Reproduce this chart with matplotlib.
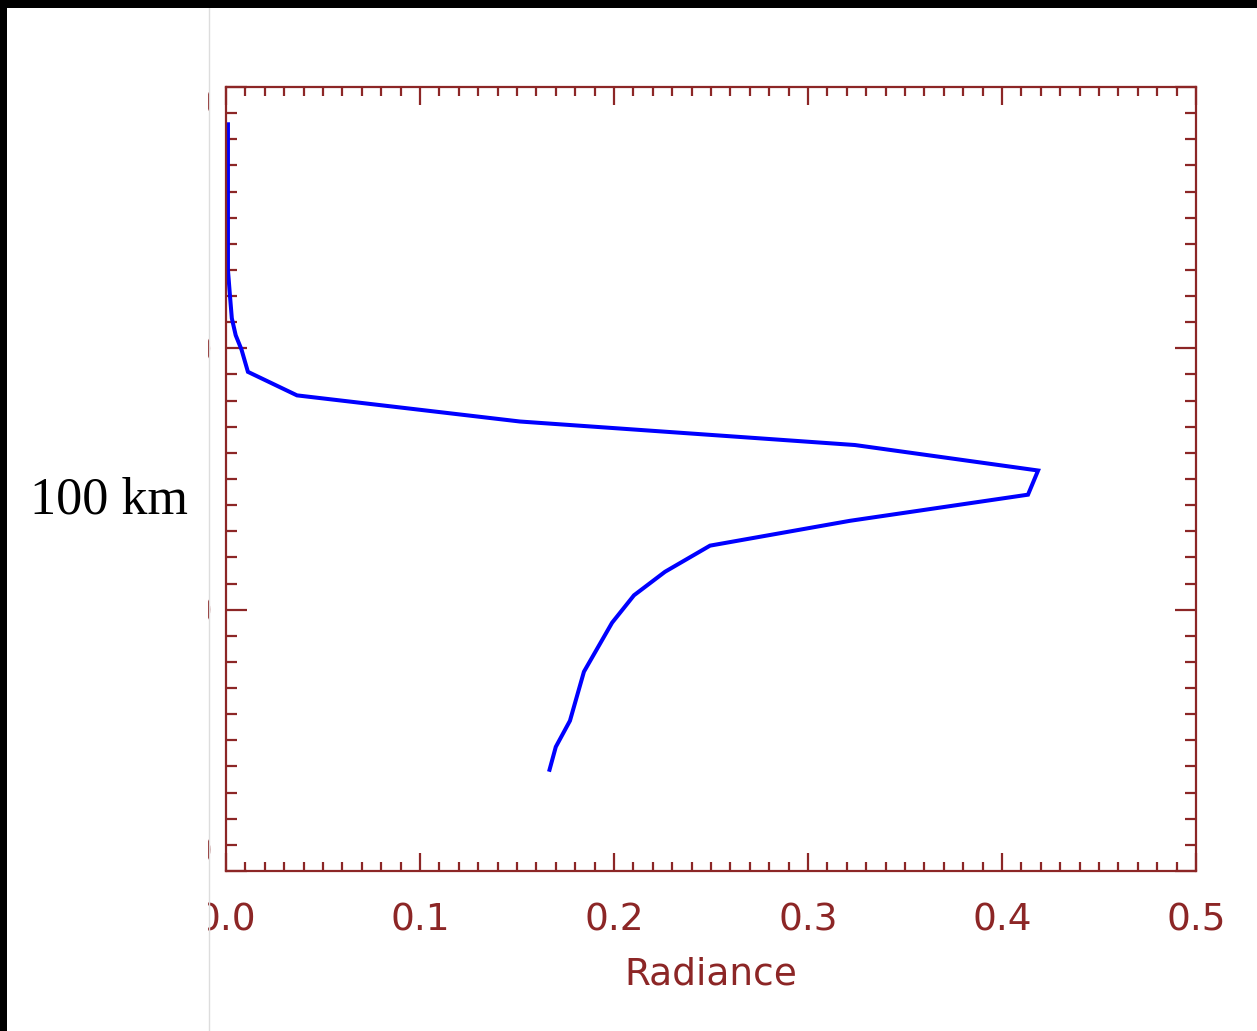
import numpy as np
import matplotlib.pyplot as plt
from matplotlib.patches import Rectangle
from matplotlib.lines import Line2D
from matplotlib.ticker import MultipleLocator

# emission profile: radiance vs altitude (km)
radiance = [0.001, 0.001, 0.002, 0.003, 0.005, 0.008, 0.0113, 0.0366, 0.1515,
            0.3242, 0.4186, 0.4134, 0.3216, 0.2495, 0.2263, 0.2103, 0.199,
            0.1845, 0.1773, 0.170, 0.1665]
altitude = [127.3, 116.0, 114.1, 112.3, 111.0, 109.9, 108.2, 106.4, 104.4,
            102.6, 100.65, 98.8, 96.8, 94.9, 92.9, 91.1, 89.0,
            85.25, 81.5, 79.5, 77.6]

x_ticks = [0.0, 0.1, 0.2, 0.3, 0.4, 0.5]
y_ticks = [70, 90, 110, 130]

axis_col = '#8c2626'
W, H = 1257, 1031

fig = plt.figure(figsize=(W / 100, H / 100), dpi=100)
ax = fig.add_axes([226 / W, 1 - 871 / H, (1196 - 226) / W, (871 - 87) / H])

ax.plot(radiance, altitude, color='#0000ff', lw=2.9, solid_joinstyle='miter',
        solid_capstyle='butt')

ax.set_xlim(0, 0.5)
ax.set_ylim(70, 130)
ax.set_xticks(x_ticks)
ax.set_yticks(y_ticks)
ax.xaxis.set_minor_locator(MultipleLocator(0.01))
ax.yaxis.set_minor_locator(MultipleLocator(2))
ax.set_xticklabels([f'{v:.1f}' for v in x_ticks])

for s in ax.spines.values():
    s.set_color(axis_col)
    s.set_linewidth(1.6)

ax.tick_params(axis='both', which='both', direction='in', colors=axis_col,
               width=1.6, top=True, right=True, labelsize=27)
ax.tick_params(axis='x', which='major', length=13, pad=22.5)
ax.tick_params(axis='x', which='minor', length=6.5)
ax.tick_params(axis='y', which='major', length=15, pad=9)
ax.tick_params(axis='y', which='minor', length=8)
ax.set_xlabel('Radiance', fontsize=27, color=axis_col, labelpad=13)

# end labels sit just inside the axis range
ylabels = ax.get_yticklabels()
ylabels[0].set_verticalalignment('bottom')
ylabels[-1].set_verticalalignment('top')

# left panel: blank strip with annotation, divider and dark frame edges
fig.add_artist(Rectangle((0, 0), 208 / W, 1, transform=fig.transFigure,
                         facecolor='white', edgecolor='none', zorder=5))
fig.add_artist(Line2D([208.5 / W, 208.5 / W], [0, 1], transform=fig.transFigure,
                      color='#dddddd', lw=1, zorder=6))
fig.text(30 / W, 1 - 500 / H, '100 km', fontsize=37.5, family='Liberation Serif',
         color='black', ha='left', va='center', zorder=6)
fig.add_artist(Rectangle((0, 0), 7 / W, 1, transform=fig.transFigure,
                         facecolor='black', edgecolor='none', zorder=7))
fig.add_artist(Rectangle((0, 1 - 8 / H), 1, 8 / H, transform=fig.transFigure,
                         facecolor='black', edgecolor='none', zorder=7))

fig.savefig('out.png', dpi=100)
